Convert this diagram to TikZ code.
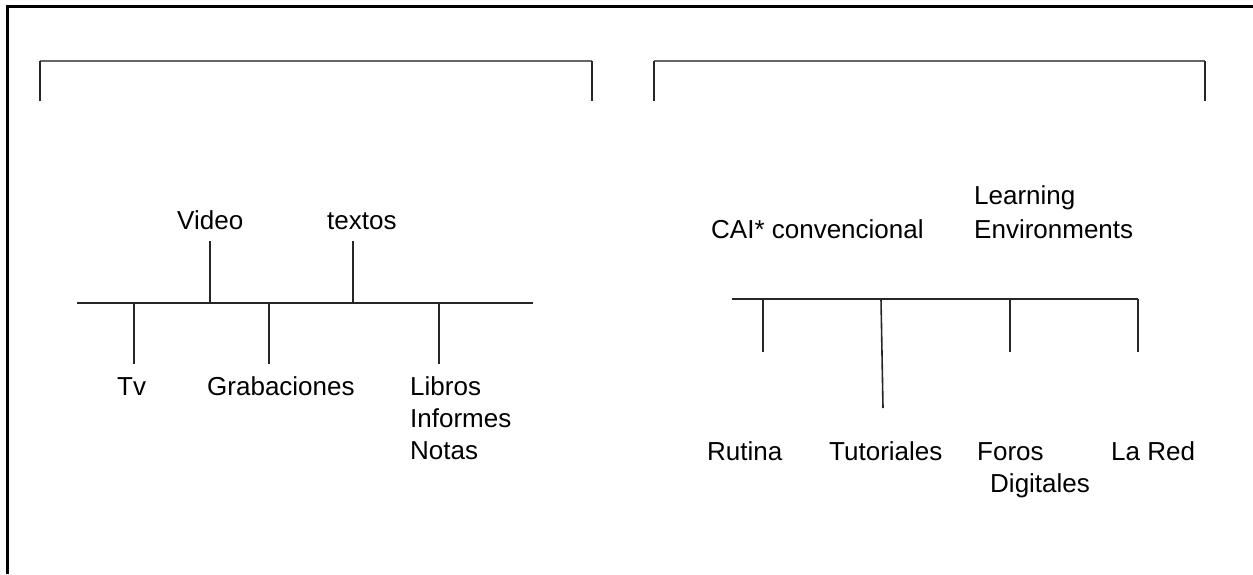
\documentclass[tikz,border=0pt]{standalone}
\usepackage{fontspec}
\setmainfont{Liberation Sans}
\begin{document}
\begin{tikzpicture}[x=1pt,y=-1pt,
  lbl/.style={anchor=base west,inner sep=0pt,font=\fontsize{26}{32}\selectfont},
  frameline/.style={line width=3pt,black},
  brackh/.style={line width=1.6pt,black!60},
  brackv/.style={line width=2pt,black!85},
  treeline/.style={line width=1.6pt,black!85}]
\useasboundingbox (0,0) rectangle (1253,574);
% frame
\coordinate (fbl) at (7,574);
\coordinate (ftl) at (7,6);
\coordinate (ftr) at (1253,6);
\draw[frameline] (fbl) -- (ftl) -- (ftr);
% brackets
\coordinate (b1a) at (40,101);
\coordinate (b1b) at (40,61);
\coordinate (b1c) at (592,61);
\coordinate (b1d) at (592,101);
\draw[brackh] (b1b) -- (b1c);
\draw[brackv] (b1a) -- (b1b);
\draw[brackv] (b1c) -- (b1d);
\coordinate (b2a) at (654,101);
\coordinate (b2b) at (654,61);
\coordinate (b2c) at (1205,61);
\coordinate (b2d) at (1205,101);
\draw[brackh] (b2b) -- (b2c);
\draw[brackv] (b2a) -- (b2b);
\draw[brackv] (b2c) -- (b2d);
% left tree
\coordinate (l0) at (77,303);
\coordinate (l1) at (533,303);
\draw[treeline] (l0) -- (l1);
\coordinate (u1t) at (210,241); \coordinate (u1b) at (210,303);
\coordinate (u2t) at (353,241); \coordinate (u2b) at (353,303);
\draw[treeline] (u1t) -- (u1b);
\draw[treeline] (u2t) -- (u2b);
\coordinate (d1t) at (134,303); \coordinate (d1b) at (134,364);
\coordinate (d2t) at (269,303); \coordinate (d2b) at (269,364);
\coordinate (d3t) at (439,303); \coordinate (d3b) at (439,364);
\draw[treeline] (d1t) -- (d1b);
\draw[treeline] (d2t) -- (d2b);
\draw[treeline] (d3t) -- (d3b);
\node[lbl] (video) at (177,229) {Video};
\node[lbl] (textos) at (327,229) {textos};
\node[lbl] (tv) at (117,395) {Tv};
\node[lbl] (grab) at (207,395) {Grabaciones};
\node[lbl] (libros) at (410,395) {Libros};
\node[lbl] (inf) at (410,427) {Informes};
\node[lbl] (notas) at (410,459) {Notas};
% right tree
\coordinate (r0) at (732,299);
\coordinate (r1) at (1138,299);
\draw[treeline] (r0) -- (r1);
\coordinate (s1t) at (763,299); \coordinate (s1b) at (763,352);
\coordinate (s2t) at (881,299); \coordinate (s2b) at (883,408);
\coordinate (s3t) at (1010,299); \coordinate (s3b) at (1010,352);
\coordinate (s4b) at (1138,352);
\draw[treeline] (s1t) -- (s1b);
\draw[treeline] (s2t) -- (s2b);
\draw[treeline] (s3t) -- (s3b);
\draw[treeline] (r1) -- (s4b);
\node[lbl] (cai) at (711,238) {CAI* convencional};
\node[lbl] (learn) at (974,204) {Learning};
\node[lbl] (env) at (974,238) {Environments};
\node[lbl] (rutina) at (707,460) {Rutina};
\node[lbl] (tut) at (829,460) {Tutoriales};
\node[lbl] (foros) at (977,460) {Foros};
\node[lbl] (dig) at (990,492) {Digitales};
\node[lbl] (red) at (1111,460) {La Red};
\end{tikzpicture}
\end{document}
